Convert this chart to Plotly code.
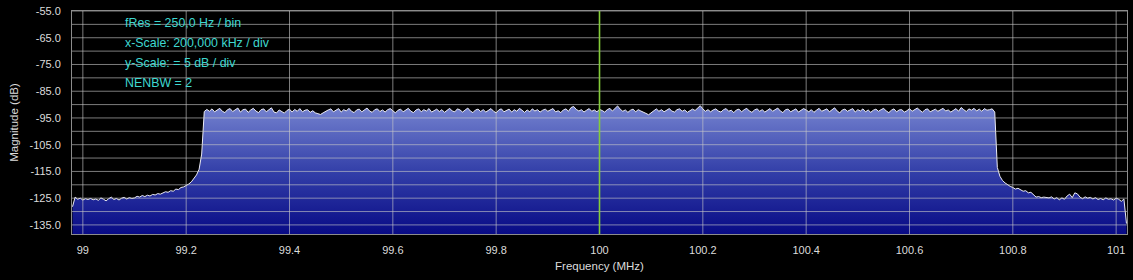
import plotly.graph_objects as go

# ---------------- data ----------------
freq_start = 98.98      # MHz, first bin shown
freq_step = 0.005       # MHz between displayed points
center_freq = 100.0     # MHz marker

# left skirt, 98.980 .. 99.230 MHz (dB)
skirt_left = [
    -128.2, -124.6, -125.4, -125.0, -125.7, -125.2, -125.5, -125.1, -125.6, -125.3,
    -125.8, -124.9, -125.4, -126.0, -125.2, -124.6, -125.5, -125.1, -125.7, -125.0,
    -124.7, -125.3, -124.8, -125.1, -124.9, -124.3, -124.6, -124.0, -124.4, -123.9,
    -124.2, -123.6, -123.8, -123.3, -123.5, -122.9, -122.6, -122.8, -122.2, -122.4,
    -121.6, -121.8, -121.0, -120.8, -120.3, -119.7, -118.9, -117.8, -116.3, -114.2,
    -108.5,
]

# occupied band, 99.235 .. 100.765 MHz (dB)
band_top = [
    -92.6, -91.8, -92.5, -91.6, -92.7, -92.0, -91.4, -92.5, -93.0, -91.9,
    -91.5, -92.6, -92.1, -91.3, -92.8, -91.9, -91.7, -92.9, -92.0, -91.4,
    -92.4, -93.0, -91.9, -91.6, -92.7, -92.1, -91.2, -92.8, -93.1, -92.0,
    -92.5, -93.2, -92.2, -91.7, -92.8, -91.8, -92.5, -91.5, -92.7, -92.1,
    -91.9, -92.9, -92.3, -93.1, -93.4, -93.7, -93.1, -92.4, -92.0, -91.6,
    -92.7, -92.1, -91.5, -92.8, -91.9, -92.4, -91.4, -92.5, -93.0, -92.0,
    -91.7, -92.7, -92.1, -91.3, -92.4, -92.9, -91.9, -91.6, -92.6, -92.0,
    -92.8, -91.9, -91.5, -92.4, -93.1, -92.1, -91.7, -92.7, -92.0, -91.4,
    -92.5, -93.0, -92.0, -91.6, -92.7, -91.9, -92.4, -91.5, -92.8, -92.1,
    -91.7, -92.6, -91.9, -92.9, -92.1, -91.4, -92.4, -92.7, -91.6, -92.0,
    -92.8, -91.9, -91.3, -92.4, -93.0, -92.0, -91.7, -92.6, -91.9, -92.8,
    -92.1, -91.5, -92.5, -93.1, -92.0, -91.6, -92.7, -92.3, -91.7, -92.8,
    -91.9, -92.5, -91.4, -92.1, -92.9, -92.0, -92.7, -91.6, -92.4, -91.9,
    -92.8, -92.1, -91.7, -92.5, -91.9, -91.5, -92.7, -92.3, -93.0, -92.0,
    -91.6, -92.5, -91.1, -90.7, -91.8, -92.4, -91.9, -92.8, -92.1, -91.5,
    -92.5, -92.0, -92.7, -91.8, -92.2, -92.8, -91.9, -91.4, -92.4, -91.3,
    -90.5, -91.7, -92.5, -92.0, -92.9, -92.1, -91.7, -92.7, -91.9, -92.4,
    -93.0, -93.3, -93.8, -93.0, -92.1, -91.6, -92.5, -91.9, -92.7, -92.1,
    -91.5, -92.4, -92.8, -91.9, -91.6, -92.5, -92.0, -92.9, -92.3, -91.7,
    -92.2, -91.4, -90.4, -91.6, -92.5, -91.9, -92.7, -92.0, -91.6, -92.4,
    -92.8, -91.9, -91.5, -92.5, -92.1, -93.0, -92.0, -91.7, -92.7, -91.9,
    -91.4, -92.4, -92.9, -92.0, -91.6, -92.5, -91.9, -92.8, -92.1, -91.5,
    -92.5, -92.0, -91.3, -92.4, -93.0, -91.9, -91.7, -92.7, -92.1, -91.6,
    -92.8, -92.3, -91.5, -92.0, -92.7, -91.9, -92.9, -92.1, -91.4, -92.5,
    -91.9, -91.6, -92.7, -92.1, -91.2, -92.4, -93.1, -92.0, -91.7, -92.5,
    -92.1, -91.5, -92.8, -91.9, -92.4, -91.6, -92.7, -92.0, -92.9, -92.1,
    -91.7, -92.5, -91.9, -91.4, -92.4, -93.0, -92.1, -91.6, -92.7, -92.0,
    -91.9, -92.8, -92.3, -91.5, -92.5, -92.0, -91.3, -92.1, -92.9, -91.9,
    -91.6, -92.7, -92.1, -91.7, -92.5, -91.9, -91.4, -92.4, -92.0, -92.8,
    -92.1, -91.5, -92.5, -91.1, -91.9, -92.6, -91.6, -92.1, -91.4, -92.4,
    -91.7, -92.5, -91.5, -92.1, -91.9, -91.6, -92.8,
]

# right skirt, 100.770 .. 101.020 MHz (dB)
skirt_right = [
    -113.5, -116.8, -118.4, -119.3, -120.0, -120.6, -121.0, -121.6, -121.3, -122.0,
    -122.4, -122.2, -123.0, -122.8, -123.6, -124.6, -124.4, -124.8, -124.6, -124.7,
    -124.9, -124.5, -125.3, -124.8, -125.6, -124.9, -125.4, -124.2, -123.5, -124.8,
    -123.0, -123.4, -124.6, -125.2, -124.5, -125.0, -124.7, -125.3, -124.8, -125.5,
    -125.1, -125.6, -124.9, -125.4, -125.2, -125.7, -125.0, -125.4, -126.2, -125.3,
    -134.5,
]

x_ticks = [99.0, 99.2, 99.4, 99.6, 99.8, 100.0, 100.2, 100.4, 100.6, 100.8, 101.0]
x_ticktext = ["99", "99.2", "99.4", "99.6", "99.8", "100", "100.2", "100.4", "100.6", "100.8", "101"]
y_ticks = [-55, -65, -75, -85, -95, -105, -115, -125, -135]
y_grid = [-55, -60, -65, -70, -75, -80, -85, -90, -95, -100, -105, -110, -115,
          -120, -125, -130, -135]
info_lines = ["fRes = 250,0 Hz / bin", "x-Scale: 200,000 kHz / div",
              "y-Scale: = 5 dB / div", "NENBW = 2"]

x_range = [98.979, 101.021]
y_range = [-138.4, -55.0]
floor_level = -145.0

# ---------------- build ----------------
mag = skirt_left + band_top + skirt_right
freq = [round(freq_start + freq_step * i, 4) for i in range(len(mag))]

FONT = "Liberation Sans"
TXT = "#dcdcdc"
GRID = "rgba(200,200,200,0.62)"

fig = go.Figure()
fig.add_trace(go.Scatter(x=freq, y=[floor_level] * len(freq), mode="lines",
                         line=dict(width=0), hoverinfo="skip", showlegend=False))
fig.add_trace(go.Scatter(
    x=freq, y=mag, mode="lines", fill="tonexty",
    line=dict(color="#ececf4", width=1),
    fillgradient=dict(type="vertical",
                      colorscale=[[0, "rgb(6,8,132)"], [0.5, "rgb(50,62,168)"],
                                  [1, "rgb(114,128,206)"]],
                      start=y_range[0], stop=-91.0),
    showlegend=False))

shapes = []
for xv in x_ticks:
    shapes.append(dict(type="line", xref="x", yref="paper", x0=xv, x1=xv, y0=0, y1=1,
                       line=dict(color=GRID, width=1), layer="above"))
for yv in y_grid:
    shapes.append(dict(type="line", xref="paper", yref="y", x0=0, x1=1, y0=yv, y1=yv,
                       line=dict(color=GRID, width=1), layer="above"))
shapes.append(dict(type="line", xref="x", yref="paper", x0=center_freq, x1=center_freq,
                   y0=0, y1=1, line=dict(color="#84cc3a", width=1.6), layer="above"))

annotations = []
for k, t in enumerate(info_lines):
    annotations.append(dict(text=t, xref="paper", yref="paper", x=0.0483,
                            y=0.944 - k * 0.0885, xanchor="left", yanchor="middle",
                            showarrow=False,
                            font=dict(family=FONT, size=12.4, color="#3fd8d0")))

fig.update_layout(
    width=1133, height=280,
    margin=dict(l=72, r=5, t=8, b=46),
    paper_bgcolor="#000000", plot_bgcolor="#000000",
    font=dict(family=FONT, size=11, color=TXT),
    shapes=shapes, annotations=annotations,
    xaxis=dict(range=x_range, tickvals=x_ticks, ticktext=x_ticktext, showgrid=False,
               zeroline=False, showline=True, mirror=True, linecolor="#8c8c8c",
               linewidth=1, ticks="", ticklabelstandoff=6,
               title=dict(text="Frequency (MHz)", standoff=6,
                          font=dict(family=FONT, size=11.5, color=TXT))),
    yaxis=dict(range=y_range, tickvals=y_ticks, ticktext=[f"{v:.1f}" for v in y_ticks],
               showgrid=False, zeroline=False, showline=True, mirror=True,
               linecolor="#8c8c8c", linewidth=1, ticks="", ticklabelstandoff=8,
               title=dict(text="Magnitude (dB)", standoff=8,
                          font=dict(family=FONT, size=11.5, color=TXT))),
)

fig.write_html("out.html")
